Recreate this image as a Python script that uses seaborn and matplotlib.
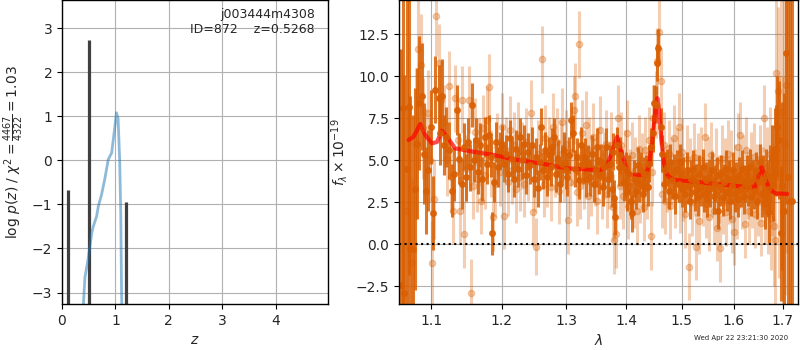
import numpy as np
import pandas as pd
import matplotlib
matplotlib.use("Agg")
import matplotlib.pyplot as plt
from matplotlib.ticker import NullLocator, FixedLocator, FormatStrFormatter
import seaborn as sns

sns.set_style("whitegrid", {"axes.edgecolor": "black", "grid.color": "#b0b0b0",
                            "xtick.bottom": True, "ytick.left": True})
plt.rcParams["font.family"] = ["DejaVu Sans"]

# --- redshift panel ---
pz_z = [0.40, 0.43, 0.49, 0.555, 0.585, 0.648, 0.68, 0.74, 0.80, 0.866, 0.93,
        0.99, 1.02, 1.05, 1.08, 1.10, 1.115, 1.125]
pz_logp = [-3.27, -2.65, -2.23, -1.66, -1.5, -1.27, -1.04, -0.78, -0.43, 0.02, 0.17,
           0.77, 1.08, 0.95, 0.0, -1.2, -3.0, -3.6]
peak_z = [0.118, 0.506, 1.198]
peak_top = [-0.67, 2.73, -0.95]

# --- spectrum panel ---
model_lam = [1.0696, 1.0762, 1.0851, 1.0919, 1.1010, 1.1078, 1.1146, 1.1216, 1.1331,
             1.1591, 1.1881, 1.2179, 1.2587, 1.3010, 1.3558, 1.3669, 1.3752, 1.3845,
             1.3923, 1.4040, 1.4120, 1.4350, 1.4404, 1.4463, 1.4524, 1.4553, 1.4584,
             1.4625, 1.4674, 1.4733, 1.4795, 1.4887, 1.5323, 1.6300, 1.6422, 1.6483,
             1.6558, 1.6627, 1.6710, 1.6848, 1.7090]
model_flux = [6.21, 6.40, 7.16, 6.50, 6.01, 6.09, 6.76, 6.40, 5.71,
              5.51, 5.32, 5.06, 4.82, 4.52, 4.42, 4.62, 5.42, 6.40,
              5.42, 4.23, 4.13, 4.13, 4.70, 6.20, 8.25, 8.70, 8.00,
              6.20, 4.80, 4.10, 3.95, 3.83, 3.70, 3.40, 3.42, 4.00,
              4.62, 4.00, 3.30, 3.03, 3.00]

dark_lam = [1.059, 1.062, 1.064, 1.067, 1.070, 1.072, 1.075, 1.078, 1.081, 1.084,
            1.088, 1.090, 1.093, 1.096, 1.099, 1.102, 1.105, 1.110, 1.112, 1.115,
            1.118, 1.120, 1.125, 1.128, 1.131, 1.136, 1.139, 1.142, 1.145, 1.148,
            1.151, 1.154, 1.157, 1.160, 1.163, 1.166, 1.169, 1.172, 1.175, 1.178,
            1.181, 1.184, 1.186, 1.189, 1.192, 1.195, 1.198, 1.201, 1.204, 1.207,
            1.210, 1.213, 1.216, 1.219, 1.222, 1.225, 1.228, 1.231, 1.234, 1.237,
            1.240, 1.243, 1.246, 1.249, 1.252, 1.255, 1.258, 1.260, 1.263, 1.266,
            1.269, 1.272, 1.275, 1.278, 1.281, 1.284, 1.287, 1.290, 1.293, 1.296,
            1.299, 1.302, 1.305, 1.308, 1.311, 1.314, 1.317, 1.320, 1.324, 1.327,
            1.330, 1.333, 1.336, 1.339, 1.342, 1.345, 1.348, 1.351, 1.354, 1.357,
            1.360, 1.363, 1.366, 1.369, 1.372, 1.375, 1.378, 1.380, 1.381, 1.384,
            1.387, 1.390, 1.393, 1.396, 1.399, 1.402, 1.405, 1.408, 1.411, 1.414,
            1.417, 1.420, 1.423, 1.426, 1.429, 1.432, 1.435, 1.438, 1.441, 1.444,
            1.447, 1.449, 1.452, 1.455, 1.457, 1.461, 1.464, 1.467, 1.470, 1.473,
            1.476, 1.479, 1.482, 1.485, 1.488, 1.491, 1.494, 1.497, 1.500, 1.503,
            1.506, 1.509, 1.512, 1.515, 1.518, 1.521, 1.524, 1.527, 1.530, 1.533,
            1.536, 1.539, 1.542, 1.545, 1.548, 1.551, 1.554, 1.557, 1.560, 1.563,
            1.566, 1.569, 1.572, 1.575, 1.578, 1.581, 1.584, 1.587, 1.590, 1.593,
            1.596, 1.599, 1.602, 1.605, 1.608, 1.611, 1.614, 1.617, 1.620, 1.623,
            1.626, 1.629, 1.632, 1.635, 1.638, 1.641, 1.644, 1.647, 1.650, 1.653,
            1.656, 1.659, 1.662, 1.665, 1.668, 1.671, 1.674, 1.677, 1.680, 1.683,
            1.685, 1.688, 1.692, 1.695, 1.699, 1.703, 1.707, 1.711, 1.715, 1.719]
dark_flux = [-2.4, 8.1, -2.9, 4.5, 8.2, -0.2, -0.3, 3.3, 6.0, 8.4,
             8.8, 5.4, 3.2, 4.4, 7.0, 1.85, 9.2, 8.7, 6.6, 8.8,
             5.9, 6.4, 5.6, 3.2, 4.2, 8.0, 5.1, 3.6, 5.8, 4.0,
             6.1, 4.6, 8.3, 5.0, 6.2, 4.3, 5.9, 3.9, 6.4, 4.8,
             6.5, 5.2, 0.65, 3.7, 6.1, 4.6, 5.6, 6.0, 4.8, 5.4,
             4.2, 6.3, 5.1, 3.9, 5.7, 4.5, 6.4, 5.0, 6.0, 4.1,
             5.5, 4.7, 5.9, 3.9, 5.2, 3.35, 4.9, 7.0, 4.4, 5.6,
             4.0, 5.3, 4.6, 5.8, 6.4, 4.2, 5.1, 3.6, 4.8, 5.6,
             4.4, 4.0, 5.3, 7.4, 6.6, 4.5, 5.2, 3.8, 5.9, 4.7,
             5.2, 3.9, 4.8, 4.0, 5.4, 3.6, 4.5, 5.8, 4.1, 4.9,
             3.4, 4.6, 5.8, 3.9, 4.8, 3.3, 5.5, 2.75, 1.64, 5.9,
             4.6, 5.3, 4.6, 3.7, 4.4, 3.1, 4.2, 2.6, 1.85, 3.9,
             3.2, 4.7, 3.6, 4.4, 3.0, 4.1, 4.2, 3.4, 4.8, 5.8,
             6.6, 8.4, 8.3, 10.8, 11.7, 7.0, 5.4, 3.6, 4.4, 4.6,
             3.2, 4.9, 3.8, 4.3, 2.9, 4.5, 3.6, 4.9, 3.3, 4.1,
             3.0, 4.4, 3.5, 2.6, 3.9, 4.5, 3.1, 3.7, 2.8, 4.2,
             3.4, 4.6, 3.0, 3.8, 2.7, 4.0, 3.3, 4.4, 2.9, 3.6,
             4.1, 2.0, 3.4, 4.2, 2.8, 3.7, 4.5, 3.1, 3.9, 2.6,
             3.5, 4.4, 3.0, 3.8, 2.7, 4.1, 3.3, 4.5, 2.9, 3.6,
             4.2, 3.4, 4.6, 2.8, 3.9, 3.2, 4.4, 2.6, 3.7, 4.9,
             3.0, 3.8, 2.4, 4.1, 3.3, 1.9, 4.0, 5.1, 3.6, 5.7,
             5.6, 7.0, 6.2, 0.65, 3.5, 2.0, 11.4, 4.0, 2.6, 2.6]
dark_err = [14, 12, 13, 11, 10, 9, 8, 6, 4.5, 4.0,
            3.2, 3.0, 2.6, 2.4, 2.2, 2.2, 2.0, 2.0, 1.9, 2.2,
            1.8, 1.8, 1.7, 1.6, 1.6, 1.5, 1.5, 1.5, 1.4, 1.4,
            1.4, 1.4, 1.3, 1.3, 1.3, 1.3, 1.3, 1.3, 1.2, 1.2,
            1.2, 1.2, 1.3, 1.2, 1.2, 1.2, 1.1, 1.1, 1.1, 1.1] + [1.1] * 150 + \
           [1.4, 1.5, 1.5, 1.6, 1.7, 1.8, 1.9, 2.0, 2.2, 2.4,
            2.7, 3.0, 3.5, 4.0, 5.0, 7.0, 9.0, 12, 13, 14]

light_lam = [1.068, 1.074, 1.079, 1.082, 1.086, 1.089, 1.092, 1.095, 1.098, 1.101,
             1.104, 1.107, 1.110, 1.113, 1.117, 1.121, 1.124, 1.127, 1.130, 1.133,
             1.137, 1.140, 1.143, 1.146, 1.149, 1.152, 1.155, 1.158, 1.161, 1.164,
             1.167, 1.170, 1.173, 1.176, 1.179, 1.182, 1.185, 1.188, 1.191, 1.194,
             1.197, 1.200, 1.204, 1.207, 1.210, 1.213, 1.216, 1.219, 1.222, 1.225,
             1.228, 1.231, 1.234, 1.237, 1.240, 1.244, 1.248, 1.251, 1.253, 1.256,
             1.261, 1.264, 1.267, 1.270, 1.273, 1.276, 1.279, 1.282, 1.285, 1.288,
             1.291, 1.294, 1.297, 1.300, 1.303, 1.306, 1.309, 1.312, 1.315, 1.318,
             1.320, 1.323, 1.326, 1.329, 1.332, 1.335, 1.338, 1.341, 1.344, 1.347,
             1.350, 1.353, 1.356, 1.359, 1.362, 1.365, 1.368, 1.371, 1.374, 1.377,
             1.380, 1.382, 1.386, 1.389, 1.392, 1.395, 1.398, 1.401, 1.404, 1.407,
             1.410, 1.413, 1.416, 1.419, 1.422, 1.425, 1.428, 1.431, 1.434, 1.437,
             1.440, 1.443, 1.446, 1.448, 1.453, 1.455, 1.458, 1.461, 1.464, 1.467,
             1.470, 1.473, 1.476, 1.479, 1.482, 1.485, 1.488, 1.491, 1.494, 1.497,
             1.500, 1.503, 1.506, 1.509, 1.513, 1.516, 1.519, 1.522, 1.525, 1.527,
             1.530, 1.533, 1.536, 1.539, 1.543, 1.546, 1.549, 1.552, 1.555, 1.558,
             1.561, 1.564, 1.567, 1.570, 1.573, 1.576, 1.579, 1.582, 1.585, 1.588,
             1.591, 1.594, 1.597, 1.600, 1.603, 1.606, 1.609, 1.613, 1.616, 1.619,
             1.622, 1.625, 1.628, 1.631, 1.634, 1.637, 1.640, 1.643, 1.646, 1.649,
             1.652, 1.655, 1.658, 1.660, 1.663, 1.666, 1.669, 1.672, 1.675, 1.678,
             1.681, 1.683, 1.686, 1.689, 1.692, 1.696, 1.700, 1.704, 1.707]
light_flux = [2.0, -1.1, 6.0, 11.6, 10.7, 6.9, 5.3, 7.8, 5.0, -1.1,
              2.7, 13.6, 10.8, 8.6, 7.3, 5.1, 9.4, 4.0, 2.0, 8.7,
              6.2, 2.0, 8.6, 0.6, 4.5, 8.6, -2.9, 3.5, 6.7, 3.9,
              5.5, 2.6, 6.9, 4.1, 7.4, 9.35, 4.8, 1.6, 3.6, 5.8,
              4.3, 7.0, 1.7, 5.6, 3.7, 6.8, 4.4, 5.9, 3.3, 6.5,
              4.0, 5.3, 3.6, 6.1, 4.6, 7.8, 1.9, 3.9, -0.15, 5.4,
              11.0, 3.6, 6.3, 4.2, 5.6, 3.4, 7.0, 4.8, 6.1, 3.2,
              5.4, 7.3, 4.5, 6.0, 1.45, 3.7, 5.5, 8.0, 8.8, 3.1,
              11.9, 3.5, 6.6, 4.1, 7.1, 2.9, 5.6, 3.7, 6.4, 4.3,
              2.6, 5.0, 6.8, 3.5, 4.7, 6.0, 3.0, 4.1, 5.9, 2.2,
              0.25, 0.6, 7.5, 3.5, 5.9, 2.9, 4.8, 6.6, 2.3, 3.7,
              5.3, 3.0, 4.4, 2.0, 5.7, 3.3, 4.6, 2.2, 5.6, 3.5,
              6.2, 0.5, 4.3, 7.5, 8.3, 10.9, 12.65, 9.7, 3.0, 5.9,
              2.6, 3.9, 5.4, 2.3, 4.4, 6.3, 3.0, 4.9, 7.0, 2.7,
              5.5, 3.4, 1.8, 5.1, -1.33, 4.3, 2.5, 5.2, 3.7, -0.14,
              4.6, 1.4, 5.0, 3.1, 6.4, 2.4, 4.4, 1.6, 5.3, 3.6,
              2.0, 4.9, 1.0, 3.3, -0.24, 5.1, 2.6, 4.3, 1.9, 5.4,
              3.2, 4.8, 1.5, 0.75, 4.0, 2.3, 5.8, 6.5, 2.9, 4.5,
              1.2, 5.6, 3.5, 2.0, 4.7, 3.0, 5.2, 1.8, 4.0, 2.5,
              5.1, 1.3, 3.8, 7.5, 2.2, 4.6, 2.0, 5.4, 1.5, 3.8,
              1.1, 0.26, 10.2, 9.1, 4.0, 7.9, 2.0, 6.0, 9.5]
light_err = [6.0, 5.0, 4.5, 3.5, 3.0, 3.0, 2.8, 2.6, 2.5, 2.5,
             2.4, 2.4, 2.3, 2.3, 2.2, 2.2, 2.1, 2.1] + [2.0] * 40 + [1.7] + [2.0] * 135 + \
            [2.2, 2.4, 2.6, 2.8, 3.0, 3.3, 3.6, 4.0, 4.5, 5.0, 6.0, 7.0, 8.0, 9.0, 10.0]

spec_color = "#d95f02"

fig = plt.figure(figsize=(8, 3.5), dpi=100)
ax1 = fig.add_axes([0.0775, 0.1314, 0.3325, 0.8686])
ax2 = fig.add_axes([0.4988, 0.1314, 0.4987, 0.8686])

# p(z)
ax1.vlines(peak_z, -3.5, peak_top, color="#404040", linewidth=2.3)
sns.lineplot(x=pz_z, y=pz_logp, ax=ax1, color="#1f77b4", alpha=0.5,
             linewidth=2, sort=False, estimator=None)
ax1.set_xlim(0, 4.98)
ax1.set_ylim(-3.26, 3.64)
ax1.set_xticks([0, 1, 2, 3, 4])
ax1.set_yticks([-3, -2, -1, 0, 1, 2, 3])
ax1.set_xlabel("$z$")
ax1.set_ylabel(r"log $p(z)$ / $\chi^2=\frac{4467}{4322}=1.03$")
ax1.text(0.95, 0.975, "j003444m4308\nID=872    z=0.5268", transform=ax1.transAxes,
         ha="right", va="top", fontsize=9)

# spectrum
ax2.errorbar(light_lam, light_flux, light_err, color=spec_color, alpha=0.3,
             marker="o", ms=4.5, ls="none", elinewidth=2.2)
ax2.errorbar(dark_lam, dark_flux, dark_err, color=spec_color, alpha=0.85,
             marker="o", ms=4, ls="none", elinewidth=2.2)
sns.lineplot(x=model_lam, y=model_flux, ax=ax2, color="red", alpha=0.7,
             linewidth=3, sort=False, estimator=None)
ax2.axhline(0, color="black", linestyle=":", linewidth=1.5)
ax2.set_xscale("log")
ax2.set_xlim(1.057, 1.732)
ax2.set_ylim(-3.55, 14.54)
ax2.xaxis.set_major_locator(FixedLocator([1.1, 1.2, 1.3, 1.4, 1.5, 1.6, 1.7]))
ax2.xaxis.set_major_formatter(FormatStrFormatter("%.1f"))
ax2.xaxis.set_minor_locator(NullLocator())
ax2.set_yticks([-2.5, 0, 2.5, 5, 7.5, 10, 12.5])
ax2.set_xlabel(r"$\lambda$")
ax2.set_ylabel(r"$f_\lambda \times 10^{-19}$")

for ax in (ax1, ax2):
    ax.tick_params(labelsize=10, length=3.5, color="black")
    for s in ax.spines.values():
        s.set_linewidth(1.0)

fig.text(0.985, 0.025, "Wed Apr 22 23:21:30 2020", ha="right", va="bottom", fontsize=5)

fig.savefig("out.png", dpi=100)
